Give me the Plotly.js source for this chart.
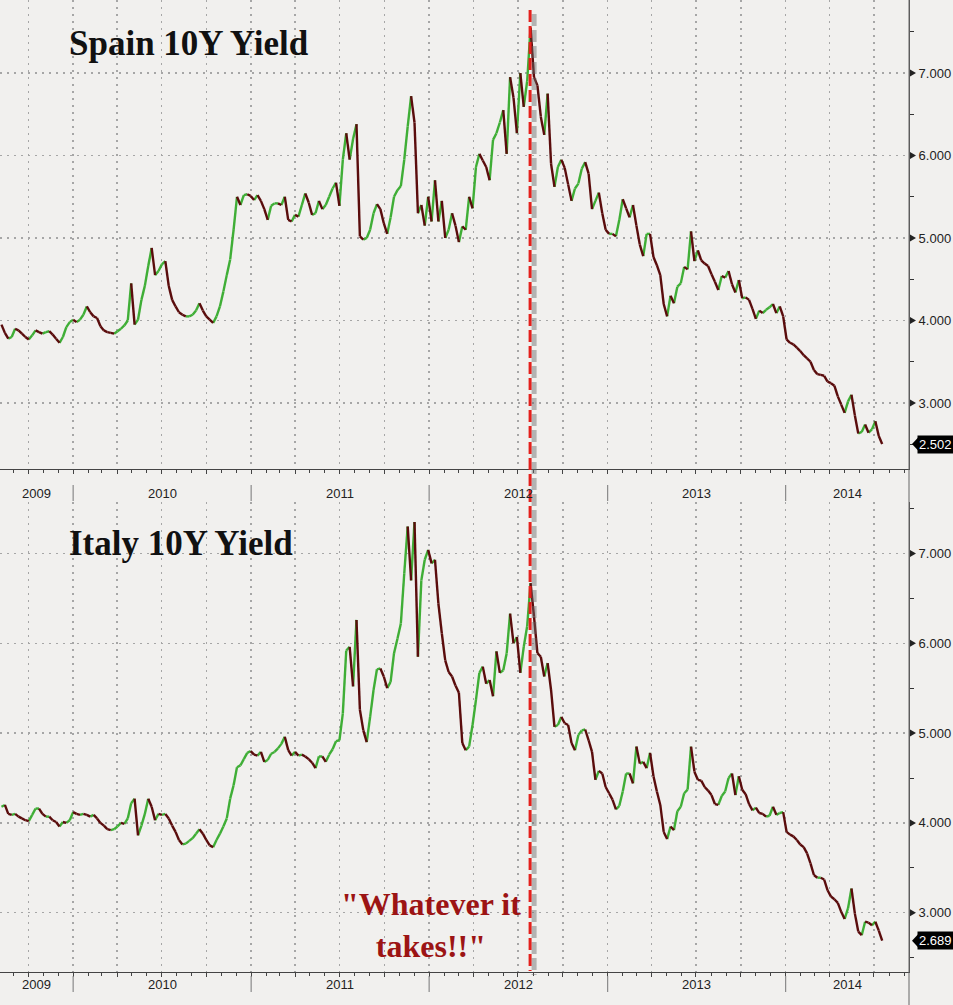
<!DOCTYPE html>
<html>
<head>
<meta charset="utf-8">
<script src="https://cdn.plot.ly/plotly-3.0.1.min.js"></script>
<style>
  html, body { margin: 0; padding: 0; background: #f1f0ee; }
  #chart { width: 953px; height: 1005px; }
</style>
</head>
<body>
<div id="chart"></div>
<script>
// ---- Data (weekly closes) ----
const weekStart = '2009-08-07';
const spain = [
  3.95,3.85,3.78,3.80,3.90,3.88,3.84,3.80,3.77,3.82,
  3.88,3.86,3.84,3.86,3.87,3.83,3.78,3.73,3.80,3.92,
  3.98,4.01,3.98,4.01,4.07,4.17,4.10,4.05,4.03,3.93,
  3.88,3.86,3.85,3.84,3.87,3.90,3.94,4.00,4.45,3.95,
  4.01,4.25,4.42,4.66,4.88,4.55,4.60,4.68,4.72,4.42,
  4.25,4.17,4.10,4.07,4.05,4.05,4.07,4.12,4.21,4.12,
  4.05,4.01,3.97,4.05,4.17,4.35,4.55,4.74,5.10,5.50,
  5.40,5.52,5.53,5.51,5.46,5.52,5.45,5.35,5.22,5.39,
  5.42,5.42,5.40,5.50,5.22,5.20,5.28,5.26,5.40,5.54,
  5.43,5.28,5.30,5.45,5.35,5.40,5.50,5.60,5.67,5.39,
  5.95,6.27,5.95,6.20,6.38,5.02,4.98,5.00,5.10,5.30,
  5.41,5.35,5.18,5.05,5.25,5.50,5.58,5.63,5.95,6.35,
  6.72,6.40,5.30,5.40,5.15,5.50,5.20,5.70,5.20,5.45,
  5.00,5.10,5.30,5.15,4.95,5.14,5.10,5.50,5.36,5.86,
  6.02,5.94,5.86,5.70,6.19,6.27,6.40,6.55,6.02,6.95,
  6.70,6.27,7.00,6.59,6.90,7.55,6.95,6.85,6.47,6.25,
  6.75,5.90,5.62,5.86,5.95,5.85,5.65,5.45,5.60,5.66,
  5.84,5.92,5.78,5.35,5.45,5.55,5.30,5.10,5.05,5.05,
  5.02,5.22,5.47,5.36,5.25,5.40,5.15,4.92,4.78,5.05,
  5.05,4.77,4.67,4.55,4.20,4.05,4.30,4.21,4.41,4.45,
  4.65,4.62,5.08,4.72,4.85,4.73,4.69,4.66,4.56,4.47,
  4.37,4.54,4.52,4.60,4.44,4.34,4.49,4.27,4.28,4.25,
  4.14,4.02,4.12,4.09,4.13,4.16,4.20,4.09,4.17,4.05,
  3.77,3.73,3.71,3.67,3.63,3.58,3.54,3.50,3.40,3.35,
  3.34,3.33,3.26,3.24,3.21,3.08,2.98,2.88,3.02,3.10,
  2.85,2.63,2.65,2.74,2.64,2.68,2.78,2.60,2.502
];
const italy = [
  4.18,4.20,4.10,4.09,4.10,4.07,4.05,4.03,4.02,4.09,
  4.16,4.16,4.10,4.07,4.07,4.03,4.01,3.96,4.01,4.00,
  4.03,4.12,4.10,4.09,4.10,4.09,4.07,4.09,4.05,4.00,
  3.97,3.93,3.92,3.93,3.96,4.00,3.99,4.05,4.22,4.27,
  3.86,3.97,4.10,4.27,4.18,4.03,4.10,4.09,4.10,4.05,
  3.97,3.90,3.81,3.76,3.77,3.80,3.83,3.88,3.93,3.88,
  3.81,3.75,3.73,3.81,3.88,3.96,4.05,4.27,4.42,4.62,
  4.64,4.71,4.78,4.80,4.76,4.75,4.79,4.68,4.70,4.77,
  4.79,4.83,4.88,4.96,4.81,4.75,4.79,4.75,4.76,4.74,
  4.71,4.67,4.61,4.74,4.74,4.68,4.76,4.82,4.91,4.92,
  5.22,5.92,5.96,5.52,6.26,5.26,5.03,4.90,5.18,5.48,
  5.71,5.72,5.63,5.50,5.57,5.89,6.05,6.22,6.78,7.30,
  6.70,7.35,5.85,6.70,6.93,7.04,6.89,6.93,6.44,6.11,
  5.81,5.68,5.63,5.53,5.45,4.89,4.81,4.85,5.09,5.37,
  5.67,5.74,5.55,5.59,5.41,5.91,5.67,5.70,5.89,6.33,
  6.00,6.07,5.67,5.96,6.19,6.67,6.30,5.89,5.85,5.63,
  5.78,5.48,5.07,5.09,5.18,5.11,5.09,4.89,4.81,4.98,
  5.03,5.04,4.92,4.79,4.48,4.58,4.55,4.40,4.33,4.26,
  4.15,4.19,4.35,4.55,4.55,4.44,4.85,4.66,4.68,4.61,
  4.78,4.52,4.35,4.20,3.90,3.82,3.96,3.92,4.13,4.18,
  4.33,4.37,4.85,4.57,4.48,4.47,4.40,4.36,4.31,4.21,
  4.20,4.30,4.35,4.50,4.55,4.31,4.52,4.37,4.32,4.21,
  4.14,4.17,4.11,4.10,4.07,4.08,4.18,4.09,4.11,4.12,
  3.90,3.87,3.85,3.81,3.76,3.73,3.66,3.55,3.42,3.39,
  3.39,3.37,3.25,3.18,3.15,3.11,3.01,2.93,3.05,3.27,
  2.99,2.79,2.75,2.90,2.89,2.86,2.90,2.80,2.689
];
const panelTitles = ['Spain 10Y Yield', 'Italy 10Y Yield'];
const yearLabels = ['2009', '2010', '2011', '2012', '2013', '2014'];
const yTicks = [3, 4, 5, 6, 7];
const xRange = ['2009-08-04', '2014-09-11'];
const eventDate = '2012-07-26';
const eventText = '"Whatever it<br>takes!!"';

// ---- Styling ----
const BG = '#f1f0ee';
const UP = '#3fae36';
const DOWN = '#5a0c0c';
const PLOT_H = 972;   // plot-area height in px (margin top 0, bottom 33)
const PLOT_W = 909;
const pY = (px) => 1 - px / PLOT_H;   // px from top -> paper
const pX = (px) => px / PLOT_W;
const LABEL_FONT = { family: 'Liberation Sans, Arial, sans-serif', size: 13, color: '#222' };

function weekDate(i) {
  const [y, m, d] = weekStart.split('-').map(Number);
  return new Date(Date.UTC(y, m - 1, d) + i * 7 * 86400000).toISOString().slice(0, 10);
}

function segments(values, xa, ya) {
  const up = { x: [], y: [] }, dn = { x: [], y: [] };
  for (let i = 1; i < values.length; i++) {
    const t = values[i] >= values[i - 1] ? up : dn;
    t.x.push(weekDate(i - 1), weekDate(i), null);
    t.y.push(values[i - 1], values[i], null);
  }
  const mk = (s, c) => ({
    type: 'scatter', mode: 'lines', x: s.x, y: s.y, xaxis: xa, yaxis: ya,
    connectgaps: false, line: { color: c, width: 2.4 }, hoverinfo: 'skip', showlegend: false
  });
  return [mk(up, UP), mk(dn, DOWN)];
}

const traces = [...segments(spain, 'x', 'y'), ...segments(italy, 'x2', 'y2')];

const gridStyle = { showgrid: true, gridcolor: '#a6a6a6', gridwidth: 1.5, griddash: '2px,5px' };
function xAxis(anchor) {
  return Object.assign({
    type: 'date', range: xRange, anchor: anchor, dtick: 'M3', tick0: '2009-10-01',
    showticklabels: false, ticks: 'outside', ticklen: 4, tickcolor: '#444',
    minor: { dtick: 'M1', ticks: 'outside', ticklen: 3, tickcolor: '#444', showgrid: false },
    showline: true, linecolor: '#444', linewidth: 1, zeroline: false, fixedrange: true
  }, gridStyle);
}
function yAxis(anchor, range, domain) {
  return Object.assign({
    side: 'right', anchor: anchor, range: range, domain: domain,
    tickmode: 'array', tickvals: yTicks, ticktext: yTicks.map(v => v.toFixed(3)),
    ticks: 'outside', ticklen: 6, tickcolor: 'rgba(0,0,0,0)',
    minor: { tickvals: yTicks.map(v => v - 0.5).concat([yTicks[yTicks.length - 1] + 0.5]),
             ticks: 'outside', ticklen: 4, tickcolor: '#333', showgrid: false },
    tickfont: LABEL_FONT,
    showline: true, linecolor: '#555', linewidth: 1, zeroline: false, fixedrange: true
  }, gridStyle);
}

const rangeStart = Date.parse(xRange[0]), rangeEnd = Date.parse(xRange[1]);
const annotations = [];
const shapes = [];

// tick arrow markers on the right axes
['y', 'y2'].forEach((ya) => {
  yTicks.forEach((v) => {
    shapes.push({
      type: 'path', xref: 'paper', yref: ya, xsizemode: 'pixel', ysizemode: 'pixel',
      xanchor: 1, yanchor: v, path: 'M1,3.5 L7,0 L1,-3.5 Z',
      fillcolor: '#222', line: { width: 0 }
    });
  });
});

// year labels + separators for both panels
[[493, 485, 501], [985, 976, 992]].forEach(([labY, s0, s1]) => {
  yearLabels.forEach((yl) => {
    const yr = Number(yl);
    const s = Math.max(Date.UTC(yr, 0, 1), rangeStart);
    const e = Math.min(Date.UTC(yr + 1, 0, 1), rangeEnd);
    annotations.push({
      x: new Date((s + e) / 2).toISOString(), xref: 'x', y: pY(labY), yref: 'paper',
      text: yl, showarrow: false, yanchor: 'middle', font: LABEL_FONT
    });
    if (yr > Number(yearLabels[0])) {
      shapes.push({
        type: 'line', xref: 'x', yref: 'paper', x0: yl + '-01-01', x1: yl + '-01-01',
        y0: pY(s0), y1: pY(s1), line: { color: '#8a8a8a', width: 1.2 }
      });
    }
  });
});

// panel titles
[[43, panelTitles[0]], [543, panelTitles[1]]].forEach(([cy, t]) => {
  annotations.push({
    x: pX(67), xref: 'paper', xanchor: 'left', y: pY(cy), yref: 'paper', yanchor: 'middle',
    text: '<b>' + t + '</b>', showarrow: false,
    font: { family: 'Liberation Serif, Times New Roman, serif', size: 35, color: '#111' }
  });
});

// last-value flags
[[spain, 'y'], [italy, 'y2']].forEach(([vals, ya]) => {
  const last = vals[vals.length - 1];
  shapes.push({
    type: 'path', xref: 'paper', yref: ya, xsizemode: 'pixel', ysizemode: 'pixel',
    xanchor: 1, yanchor: last, path: 'M3,0 L10,7.5 L10,-7.5 Z',
    fillcolor: '#000', line: { width: 0 }
  });
  annotations.push({
    x: 1, xref: 'paper', xanchor: 'left', xshift: 8, y: last, yref: ya, yanchor: 'middle',
    text: last.toFixed(3), showarrow: false, bgcolor: '#000', borderpad: 1,
    font: { family: 'Liberation Sans, Arial, sans-serif', size: 13, color: '#fff' }
  });
});

// event annotation
annotations.push({
  x: pX(431), xref: 'paper', y: pY(925), yref: 'paper', yanchor: 'middle',
  text: '<b>' + eventText + '</b>', showarrow: false, align: 'center',
  font: { family: 'Liberation Serif, Times New Roman, serif', size: 32, color: '#9c1414' }
});

// event dashed line with shadow
shapes.push({
  type: 'line', xref: 'x', yref: 'paper', xsizemode: 'pixel', xanchor: eventDate,
  x0: 4, x1: 4, y0: pY(14), y1: pY(975),
  line: { color: 'rgba(105,105,105,0.45)', width: 5, dash: '12px,4px' }
});
shapes.push({
  type: 'line', xref: 'x', yref: 'paper', x0: eventDate, x1: eventDate,
  y0: pY(10), y1: pY(971),
  line: { color: '#e4201c', width: 3, dash: '12px,4px' }
});

// full height right border
shapes.push({
  type: 'line', xref: 'paper', yref: 'paper', x0: 1, x1: 1, y0: pY(1005), y1: 1,
  line: { color: '#666', width: 1 }
});

const layout = {
  width: 953, height: 1005,
  margin: { l: 0, r: 44, t: 0, b: 33 },
  paper_bgcolor: BG, plot_bgcolor: BG,
  showlegend: false,
  xaxis: xAxis('y'),
  xaxis2: xAxis('y2'),
  yaxis: yAxis('x', [2.2, 7.885], [pY(469), 1]),
  yaxis2: yAxis('x2', [2.34, 7.573], [0, pY(502)]),
  annotations: annotations,
  shapes: shapes
};

Plotly.newPlot('chart', traces, layout, { staticPlot: true, displayModeBar: false });
</script>
</body>
</html>
